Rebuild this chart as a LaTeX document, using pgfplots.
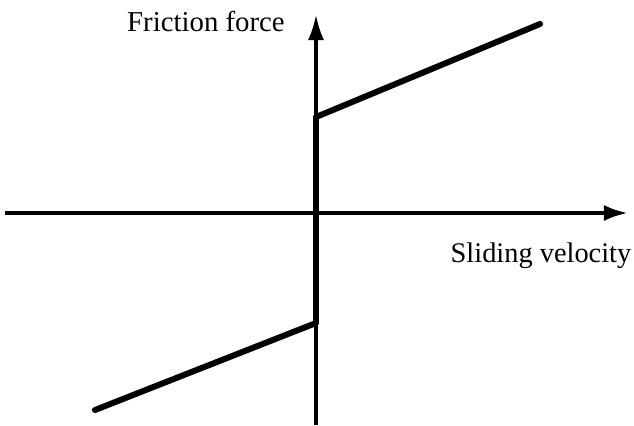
\documentclass[border=0pt]{standalone}
\usepackage{pgfplots}
\pgfplotsset{compat=1.18}
\usetikzlibrary{arrows.meta}
\usepackage{fontspec}
\setmainfont{Liberation Serif}
\begin{document}
\begin{tikzpicture}
\begin{axis}[name=ax,
  hide axis, scale only axis, clip=false,
  width=317pt, height=212.5pt,
  xmin=0, xmax=634, ymin=0, ymax=425]
% x axis (horizontal)
\addplot[black, line width=2pt, -{Latex[length=12pt,width=8pt]}] coordinates {(5,212) (628,212)};
% y axis (vertical)
\addplot[black, line width=2pt, -{Latex[length=13pt,width=8pt]}] coordinates {(316,0) (316,411)};
% thick vertical segment at zero velocity
\addplot[black, line width=3pt] coordinates {(316,102) (316,308)};
% positive branch
\addplot[black, line width=3pt, line cap=round] coordinates {(316,308) (540,401)};
% negative branch
\addplot[black, line width=3pt, line cap=round] coordinates {(95,15) (316,102)};
\node[anchor=base, font=\fontsize{14.4pt}{17pt}\selectfont] at (axis cs:206,394) {Friction force};
\node[anchor=base, font=\fontsize{14.2pt}{17pt}\selectfont] at (axis cs:541,163) {Sliding velocity};
\end{axis}
\pgfresetboundingbox
\path (ax.south west) rectangle (ax.north east);
\end{tikzpicture}
\end{document}
